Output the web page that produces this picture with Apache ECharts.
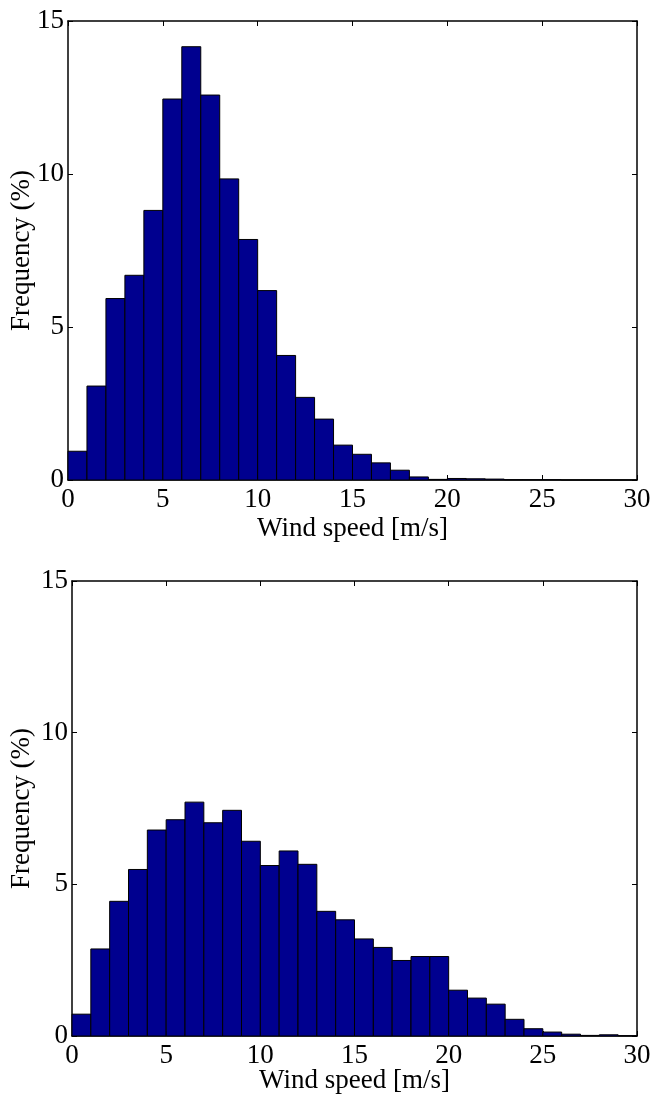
<!DOCTYPE html>
<html>
<head>
<meta charset="utf-8">
<script src="https://cdn.jsdelivr.net/npm/echarts@6/dist/echarts.min.js"></script>
<style>
html,body{margin:0;padding:0;background:#fff;}
#chart{width:655px;height:1095px;}
</style>
</head>
<body>
<div id="chart"></div>
<script>
// Bin left edges (bin width 1 m/s)
const binStarts = [0,1,2,3,4,5,6,7,8,9,10,11,12,13,14,15,16,17,18,19,20,21,22,23,24,25,26,27,28,29];
const binWidth = 1;
// Top histogram: frequency (%)
const freqTop = [0.94,3.07,5.93,6.69,8.81,12.45,14.16,12.58,9.84,7.86,6.19,4.07,2.70,1.99,1.14,0.84,0.56,0.32,0.10,0.02,0.05,0.04,0.03,0.01,0.01,0.01,0.0,0.0,0.0,0.0];
// Bottom histogram: frequency (%)
const freqBottom = [0.72,2.87,4.44,5.49,6.79,7.13,7.71,7.03,7.44,6.42,5.62,6.10,5.66,4.11,3.83,3.20,2.92,2.49,2.62,2.62,1.51,1.25,1.05,0.55,0.24,0.13,0.06,0.02,0.04,0.01];
const xTicks = [0,5,10,15,20,25,30];
const yTicks = [0,5,10,15];
const xName = 'Wind speed [m/s]';
const yName = 'Frequency (%)';

const FONT = '"Liberation Serif","Times New Roman",serif';
const FS = 27;
const barColor = '#00008F';

const chart = echarts.init(document.getElementById('chart'), null, {renderer:'canvas'});

const grids = [
  {left:68, top:21, width:569, height:459, outerBoundsMode:'none', containLabel:false},
  {left:72, top:581, width:565, height:455, outerBoundsMode:'none', containLabel:false}
];

function toData(vals){ return binStarts.map((s,i)=>[s, s+binWidth, vals[i]]); }

const xAxes = [], yAxes = [], series = [];
const axisLine = {show:true, onZero:false, lineStyle:{color:'#000', width:1.5}};
const tick = {show:true, inside:true, length:5, lineStyle:{color:'#000', width:1}};
grids.forEach((g, gi) => {
  xAxes.push({
    type:'value', gridIndex:gi, min:xTicks[0], max:xTicks[xTicks.length-1], interval:5,
    position:'bottom',
    axisLine:axisLine, axisTick:tick,
    axisLabel:{show:true, color:'#000', fontFamily:FONT, fontSize:FS, margin:6},
    splitLine:{show:false},
    name:xName, nameLocation:'middle', nameGap:gi===0?35:31, nameMoveOverlap:false,
    nameTextStyle:{color:'#000', fontFamily:FONT, fontSize:FS}
  });
  xAxes.push({
    type:'value', gridIndex:gi, min:xTicks[0], max:xTicks[xTicks.length-1], interval:5,
    position:'top',
    axisLine:axisLine, axisTick:tick,
    axisLabel:{show:false}, splitLine:{show:false}
  });
  yAxes.push({
    type:'value', gridIndex:gi, min:yTicks[0], max:yTicks[yTicks.length-1], interval:5,
    position:'left',
    axisLine:axisLine, axisTick:tick,
    axisLabel:{show:true, color:'#000', fontFamily:FONT, fontSize:FS, margin:4},
    splitLine:{show:false},
    name:yName, nameLocation:'middle', nameGap:gi===0?33:37, nameRotate:90, nameMoveOverlap:false,
    nameTextStyle:{color:'#000', fontFamily:FONT, fontSize:FS}
  });
  yAxes.push({
    type:'value', gridIndex:gi, min:yTicks[0], max:yTicks[yTicks.length-1], interval:5,
    position:'right',
    axisLine:axisLine, axisTick:tick,
    axisLabel:{show:false}, splitLine:{show:false}
  });
  series.push({
    type:'custom',
    xAxisIndex:gi*2, yAxisIndex:gi*2,
    data: toData(gi===0?freqTop:freqBottom),
    encode:{x:[0,1], y:2},
    renderItem:function(params, api){
      const p0 = api.coord([api.value(0), api.value(2)]);
      const p1 = api.coord([api.value(1), 0]);
      return {
        type:'rect',
        shape:{x:p0[0], y:p0[1], width:p1[0]-p0[0], height:p1[1]-p0[1]},
        style:{fill:barColor, stroke:'#000', lineWidth:1}
      };
    },
    z:1
  });
});

chart.setOption({
  backgroundColor:'#fff',
  animation:false,
  grid:grids,
  xAxis:xAxes,
  yAxis:yAxes,
  series:series
});
</script>
</body>
</html>
